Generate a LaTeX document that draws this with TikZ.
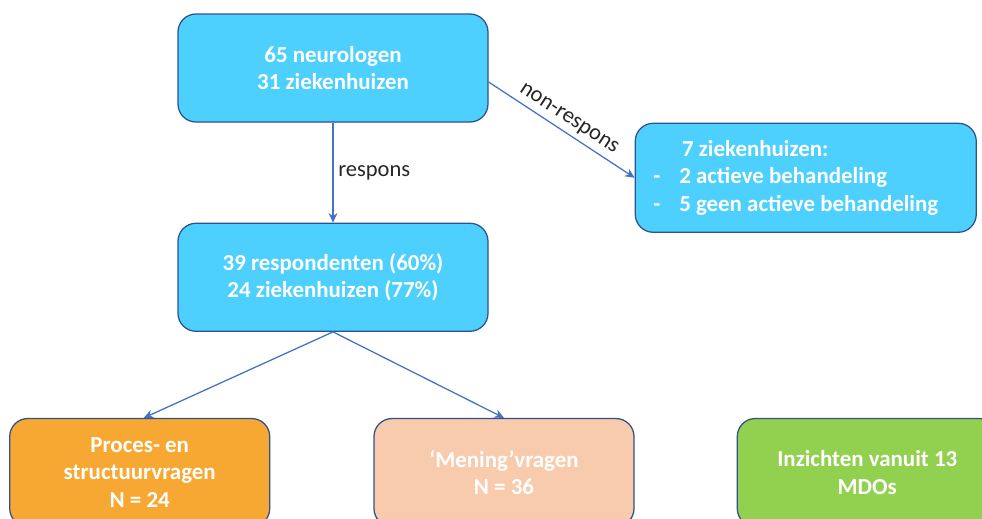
\documentclass[tikz,border=0pt]{standalone}
\usepackage{fontspec}
\setmainfont{Carlito}
\usetikzlibrary{positioning,arrows.meta}
\definecolor{boxblue}{HTML}{4ED0FE}
\definecolor{boxorange}{HTML}{F7A833}
\definecolor{boxpeach}{HTML}{F8CBAD}
\definecolor{boxgreen}{HTML}{92D050}
\definecolor{rim}{HTML}{2F528F}
\definecolor{arrowblue}{HTML}{4472C4}
\begin{document}
\begin{tikzpicture}[node distance={25mm}, line width=0.9pt,
		main/.style = {draw=rim, rounded corners=4.5mm, align=center, text=white, font=\fontsize{16.3}{19.4}\selectfont\bfseries, minimum width=77.5mm, minimum height=27mm},
		sub/.style = {main, minimum width=65mm},
		link/.style = {draw=arrowblue, -{Stealth[length=2.4mm, width=2.2mm]}},
		lbl/.style = {font=\fontsize{16}{19.2}\selectfont, text=black!85}]
		\useasboundingbox (0,0) rectangle (24.55,-12.95);
		\clip (0,0) rectangle (24.55,-12.95);
		\node[main, fill=boxblue] (1) at (8.325,-1.7) {65 neurologen\\31 ziekenhuizen};
		\node[main, fill=boxblue] (2) [below=of 1] {39 respondenten (60\%)\\24 ziekenhuizen (77\%)};
		\node[main, fill=boxblue, align=flush left, text width=76.25mm, inner xsep=4.5mm, minimum width=85.25mm, minimum height=27.25mm] (3) [below right=0mm and 36.5mm of 1.south east] {\hspace*{7.2mm}7 ziekenhuizen:\\\makebox[6.5mm][l]{-}2 actieve behandeling\\\makebox[6.5mm][l]{-}5 geen actieve behandeling};
		\node[sub, fill=boxpeach] (5) [below=21.5mm of 2, xshift=42.75mm] {‘Mening’vragen\\N = 36};
		\node[sub, fill=boxorange] (4) [left=25.75mm of 5] {Proces- en\\structuurvragen\\N = 24};
		\node[sub, fill=boxgreen] (6) [right=25.5mm of 5] {Inzichten vanuit 13\\MDOs};
		\draw[link] (1) -- node[lbl, right, midway] {respons} (2);
		\draw[link] ([yshift=-3.5mm]1.east) -- node[lbl, above, sloped, midway] {non-respons} (3.west);
		\draw[link] (2.south) -- ([xshift=1mm]4.north);
		\draw[link] (2.south) -- (5.north);
\end{tikzpicture}
\end{document}
